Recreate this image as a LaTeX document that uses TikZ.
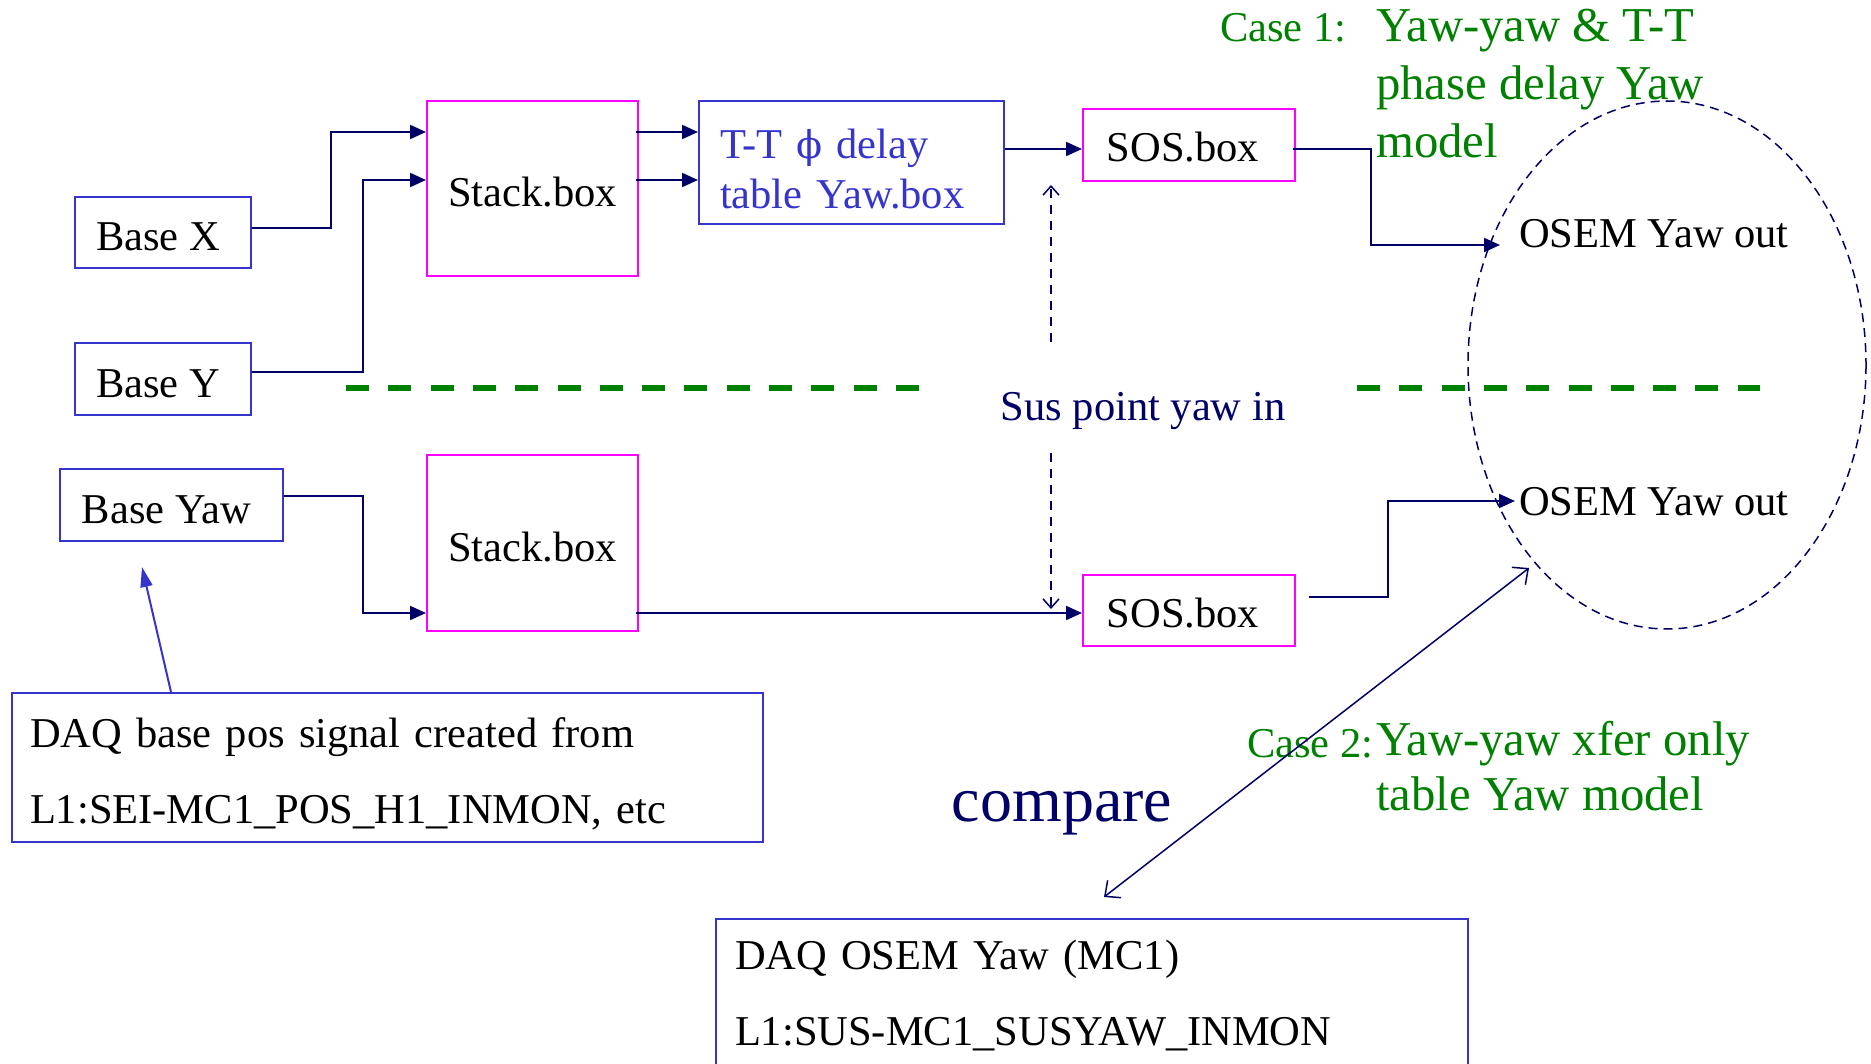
\documentclass[tikz,border=0pt]{standalone}
\usepackage{fontspec}
\setmainfont{Liberation Serif}
\newfontfamily\griega[Scale=0.9]{DejaVu Serif}
\usepackage{xcolor}
\usepackage{tikz}
\usetikzlibrary{positioning,arrows.meta,shapes.geometric,calc}
\definecolor{marino}{HTML}{000066}
\definecolor{azul}{HTML}{3535CC}
\definecolor{rosa}{HTML}{FF00FF}
\definecolor{verde}{HTML}{008000}

\begin{document}
\begin{tikzpicture}[
  x=1pt, y=-1pt,
  font=\fontsize{42.5}{50}\selectfont,
  caja/.style={draw=azul, line width=2pt, inner sep=0pt},
  filtro/.style={draw=rosa, line width=2pt, inner sep=0pt},
  bajo/.style={text height=37pt, text depth=0pt},
  flecha/.style={marino, line width=2pt, -{Triangle[length=16pt,width=14pt]}},
  punteada/.style={marino, line width=1.5pt, dash pattern=on 9pt off 7pt,
                   -{Straight Barb[length=9pt,width=16pt]}},
  verdes/.style={verde, line width=5pt, dash pattern=on 23pt off 19.3pt},
  modelo/.style={verde, anchor=base west, align=left, inner sep=0pt,
                 font=\fontsize{48.7}{58}\selectfont}
]
  \useasboundingbox (0,0) rectangle (1871,1064);

  % entradas de base
  \node[caja, bajo, minimum width=176pt, minimum height=71pt] (basex) at (163,232.5) {Base X\hspace*{10pt}};
  \node[caja, bajo, minimum width=176pt, minimum height=72pt, below=73pt of basex] (basey) {Base Y\hspace*{10pt}};
  \node[caja, bajo, minimum width=223pt, minimum height=72pt] (baseyaw) at (171.5,505) {Base Yaw\hspace*{10pt}};

  % bloques
  \node[filtro, bajo, minimum width=211pt, minimum height=175pt] (stack1) at (532.5,188.5) {Stack.box};
  \node[filtro, bajo, minimum width=211pt, minimum height=176pt, below=177pt of stack1] (stack2) {Stack.box};
  \node[caja, azul, text width=263pt, inner xsep=21pt, minimum height=123pt, align=left]
       (tt) at (851.5,162.5) {\rule{0pt}{42pt}T-T {\griega ϕ} delay\\table Yaw.box};
  \node[filtro, minimum width=212pt, minimum height=72pt, text height=33pt, text depth=0pt] (sos1) at (1189,145) {SOS.box\hspace*{12pt}};
  \node[filtro, minimum width=212pt, minimum height=71pt, text height=33pt, text depth=0pt, below=392pt of sos1] (sos2) {SOS.box\hspace*{12pt}};

  % salidas
  \draw[marino, line width=1.5pt, dash pattern=on 9pt off 6pt]
       (1667,365) ellipse [x radius=199, y radius=264];
  \node[anchor=base west, inner sep=0pt] (osem1) at (1519,248) {OSEM Yaw out};
  \node[anchor=base west, inner sep=0pt] (osem2) at (1519,515) {OSEM Yaw out};

  % separadores
  \draw[verdes] (346,388) -- (919,388);
  \draw[verdes] (1357,388) -- (1760,388);
  \node[marino, anchor=base] (sus) at (1143,420) {Sus point yaw in};
  \coordinate (susarr) at (1051,342);
  \coordinate (susabj) at (1051,453);

  % notas
  \node[caja, text width=715pt, inner xsep=18pt, minimum height=149pt, align=left,
        font=\fontsize{42.5}{76}\selectfont] (daqbase) at (387.5,767.5)
       {\rule{0pt}{42pt}DAQ base pos signal created from\\L1:SEI-MC1\_POS\_H1\_INMON, etc};
  \node[caja, anchor=north west, text width=714pt, inner xsep=19pt, minimum height=153pt,
        align=left, font=\fontsize{42.5}{76}\selectfont] (daqosem) at (715,918)
       {DAQ OSEM Yaw (MC1)\\L1:SUS-MC1\_SUSYAW\_INMON};
  \node[marino, anchor=base, inner sep=0pt, font=\fontsize{64}{70}\selectfont] (cmp) at (1062,821) {compare};
  \coordinate (cmpa) at (1104,897);
  \coordinate (cmpb) at (1529,568);
  \coordinate (yawtip) at (142,567);

  % casos
  \node[verde, anchor=base west, inner sep=0pt] (case1) at (1220,42) {Case 1:};
  \node[modelo] (model1) at (1376,158) {Yaw-yaw \& T-T\\phase delay Yaw\\model};
  \node[verde, anchor=base west, inner sep=0pt] (case2) at (1247,757) {Case 2:};
  \node[modelo, font=\fontsize{48.7}{55}\selectfont] (model2) at (1376,810) {Yaw-yaw xfer only\\table Yaw model};

  % conexiones
  \draw[flecha] (basex.east |- 0,228) -| (331,132) -- (stack1.west |- 0,132);
  \draw[flecha] (basey.east |- 0,372) -| (363,180) -- (stack1.west |- 0,180);
  \draw[flecha] ([xshift=-3pt]stack1.east |- 0,132) -- (tt.west |- 0,132);
  \draw[flecha] ([xshift=-3pt]stack1.east |- 0,180) -- (tt.west |- 0,180);
  \draw[flecha] (tt.east |- 0,149) -- (sos1.west |- 0,149);
  \draw[flecha] ([xshift=-3pt]sos1.east |- 0,149) -| (1371,245) -- ([xshift=-19pt,yshift=3pt]osem1.base west);
  \draw[flecha] (baseyaw.east |- 0,496) -| (363,613) -- (stack2.west |- 0,613);
  \draw[flecha] ([xshift=-3pt]stack2.east |- 0,613) -- (sos2.west |- 0,613);
  \draw[flecha] ([xshift=13pt]sos2.east |- 0,597) -| (1388,501) -- ([xshift=-4pt,yshift=14pt]osem2.base west);
  \draw[punteada] (susarr) -- (1051,185);
  \draw[punteada] (susabj) -- (1051,609);
  \draw[azul, line width=2pt, -{Triangle[length=20pt,width=12pt]}] (daqbase.north -| 171,0) -- (yawtip);
  \draw[marino, line width=1.5pt, {Straight Barb[length=12pt,width=22pt]}-{Straight Barb[length=12pt,width=22pt]}]
       (cmpa) -- (cmpb);
\end{tikzpicture}
\end{document}
